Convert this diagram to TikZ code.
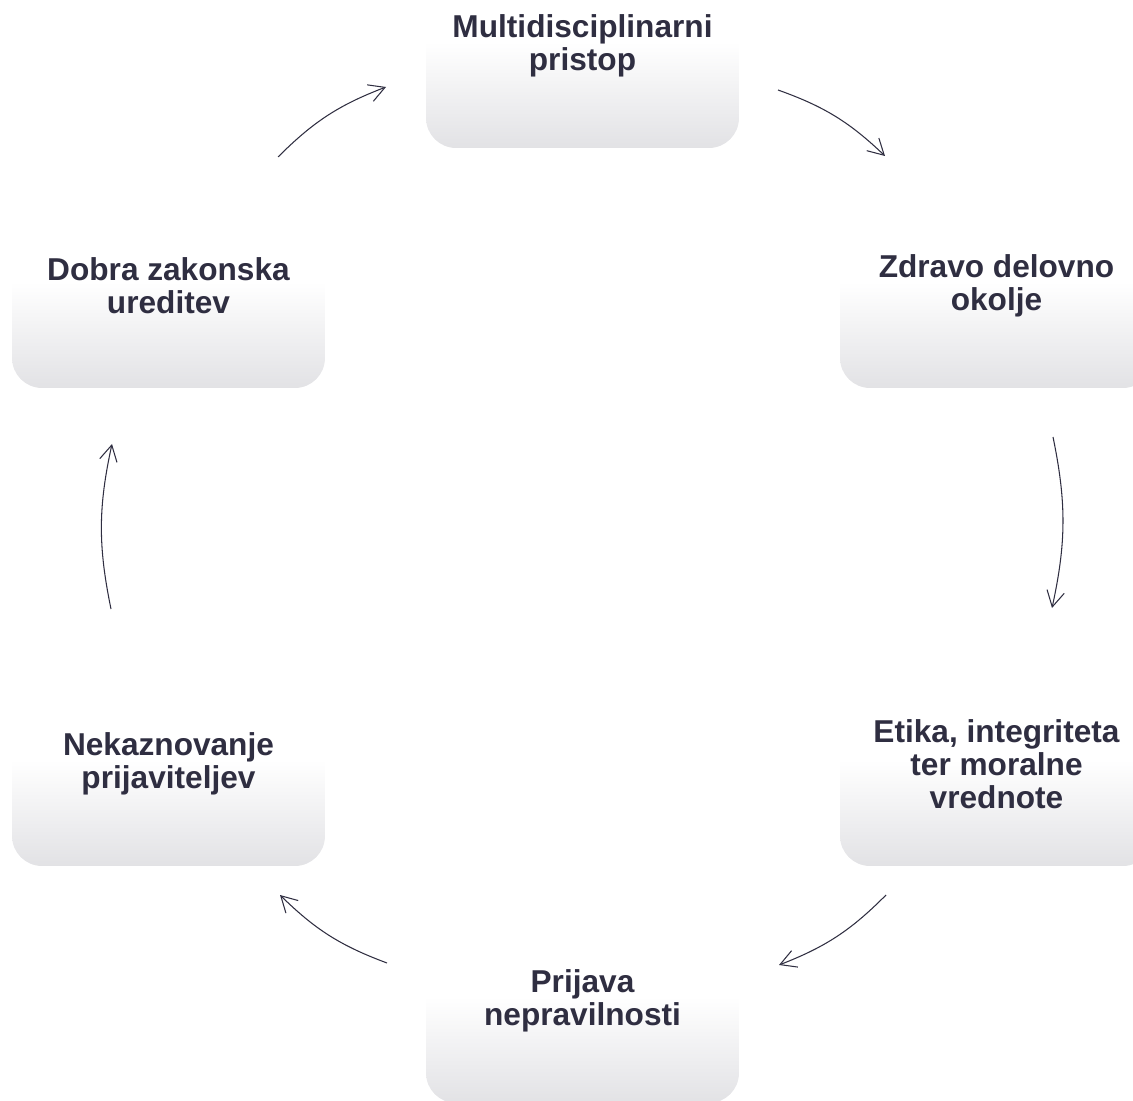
\documentclass[tikz,border=0pt]{standalone}
\usepackage{fontspec}
\setmainfont{Liberation Sans}
\usetikzlibrary{arrows.meta}
\definecolor{ink}{RGB}{47,46,65}
\definecolor{boxgray}{RGB}{226,226,229}
\pgfdeclareverticalshading{boxfade}{100bp}{color(0bp)=(boxgray); color(25bp)=(boxgray); color(51bp)=(white); color(100bp)=(white)}
\tikzset{
  cyclebox/.style={rounded corners=0.6cm, minimum width=6.26cm, minimum height=4.08cm,
    shade, shading=boxfade,
    text=ink, align=center, font=\bfseries\fontsize{18}{18.8}\selectfont, inner sep=0pt},
  flow/.style={ink, line width=0.6pt, -{Straight Barb[length=9pt,width=10pt]}, bend left=12}
}
\begin{document}
\begin{tikzpicture}[x=0.02cm, y=-0.02cm]
      \useasboundingbox (0,0) rectangle (1133,1101);
      \clip (0,0) rectangle (1133,1101);
      \draw
        (582.5,46) node[cyclebox] (0){Multidisciplinarni\\pristop}
        (996.5,286) node[cyclebox] (1){Zdravo delovno\\okolje}
        (996.5,764) node[cyclebox] (2){Etika, integriteta\\ter moralne\\vrednote}
        (582.5,1001) node[cyclebox] (3){Prijava\\nepravilnosti}
        (168.5,764) node[cyclebox] (4){Nekaznovanje\\prijaviteljev}
        (168.5,286) node[cyclebox] (5){Dobra zakonska\\ureditev};
      \coordinate (0o) at (778,90);
      \coordinate (1i) at (885,156);
      \coordinate (1o) at (1053,437);
      \coordinate (2i) at (1052,608);
      \coordinate (2o) at (886,895);
      \coordinate (3i) at (779,965);
      \coordinate (3o) at (387,963);
      \coordinate (4i) at (280,895);
      \coordinate (4o) at (111,609);
      \coordinate (5i) at (112,444);
      \coordinate (5o) at (278,157);
      \coordinate (0i) at (386,87);
      \begin{scope}[flow]
        \draw (0o) to (1i);
        \draw (1o) to (2i);
        \draw (2o) to (3i);
        \draw (3o) to (4i);
        \draw (4o) to (5i);
        \draw (5o) to (0i);
      \end{scope}
    \end{tikzpicture}
\end{document}
